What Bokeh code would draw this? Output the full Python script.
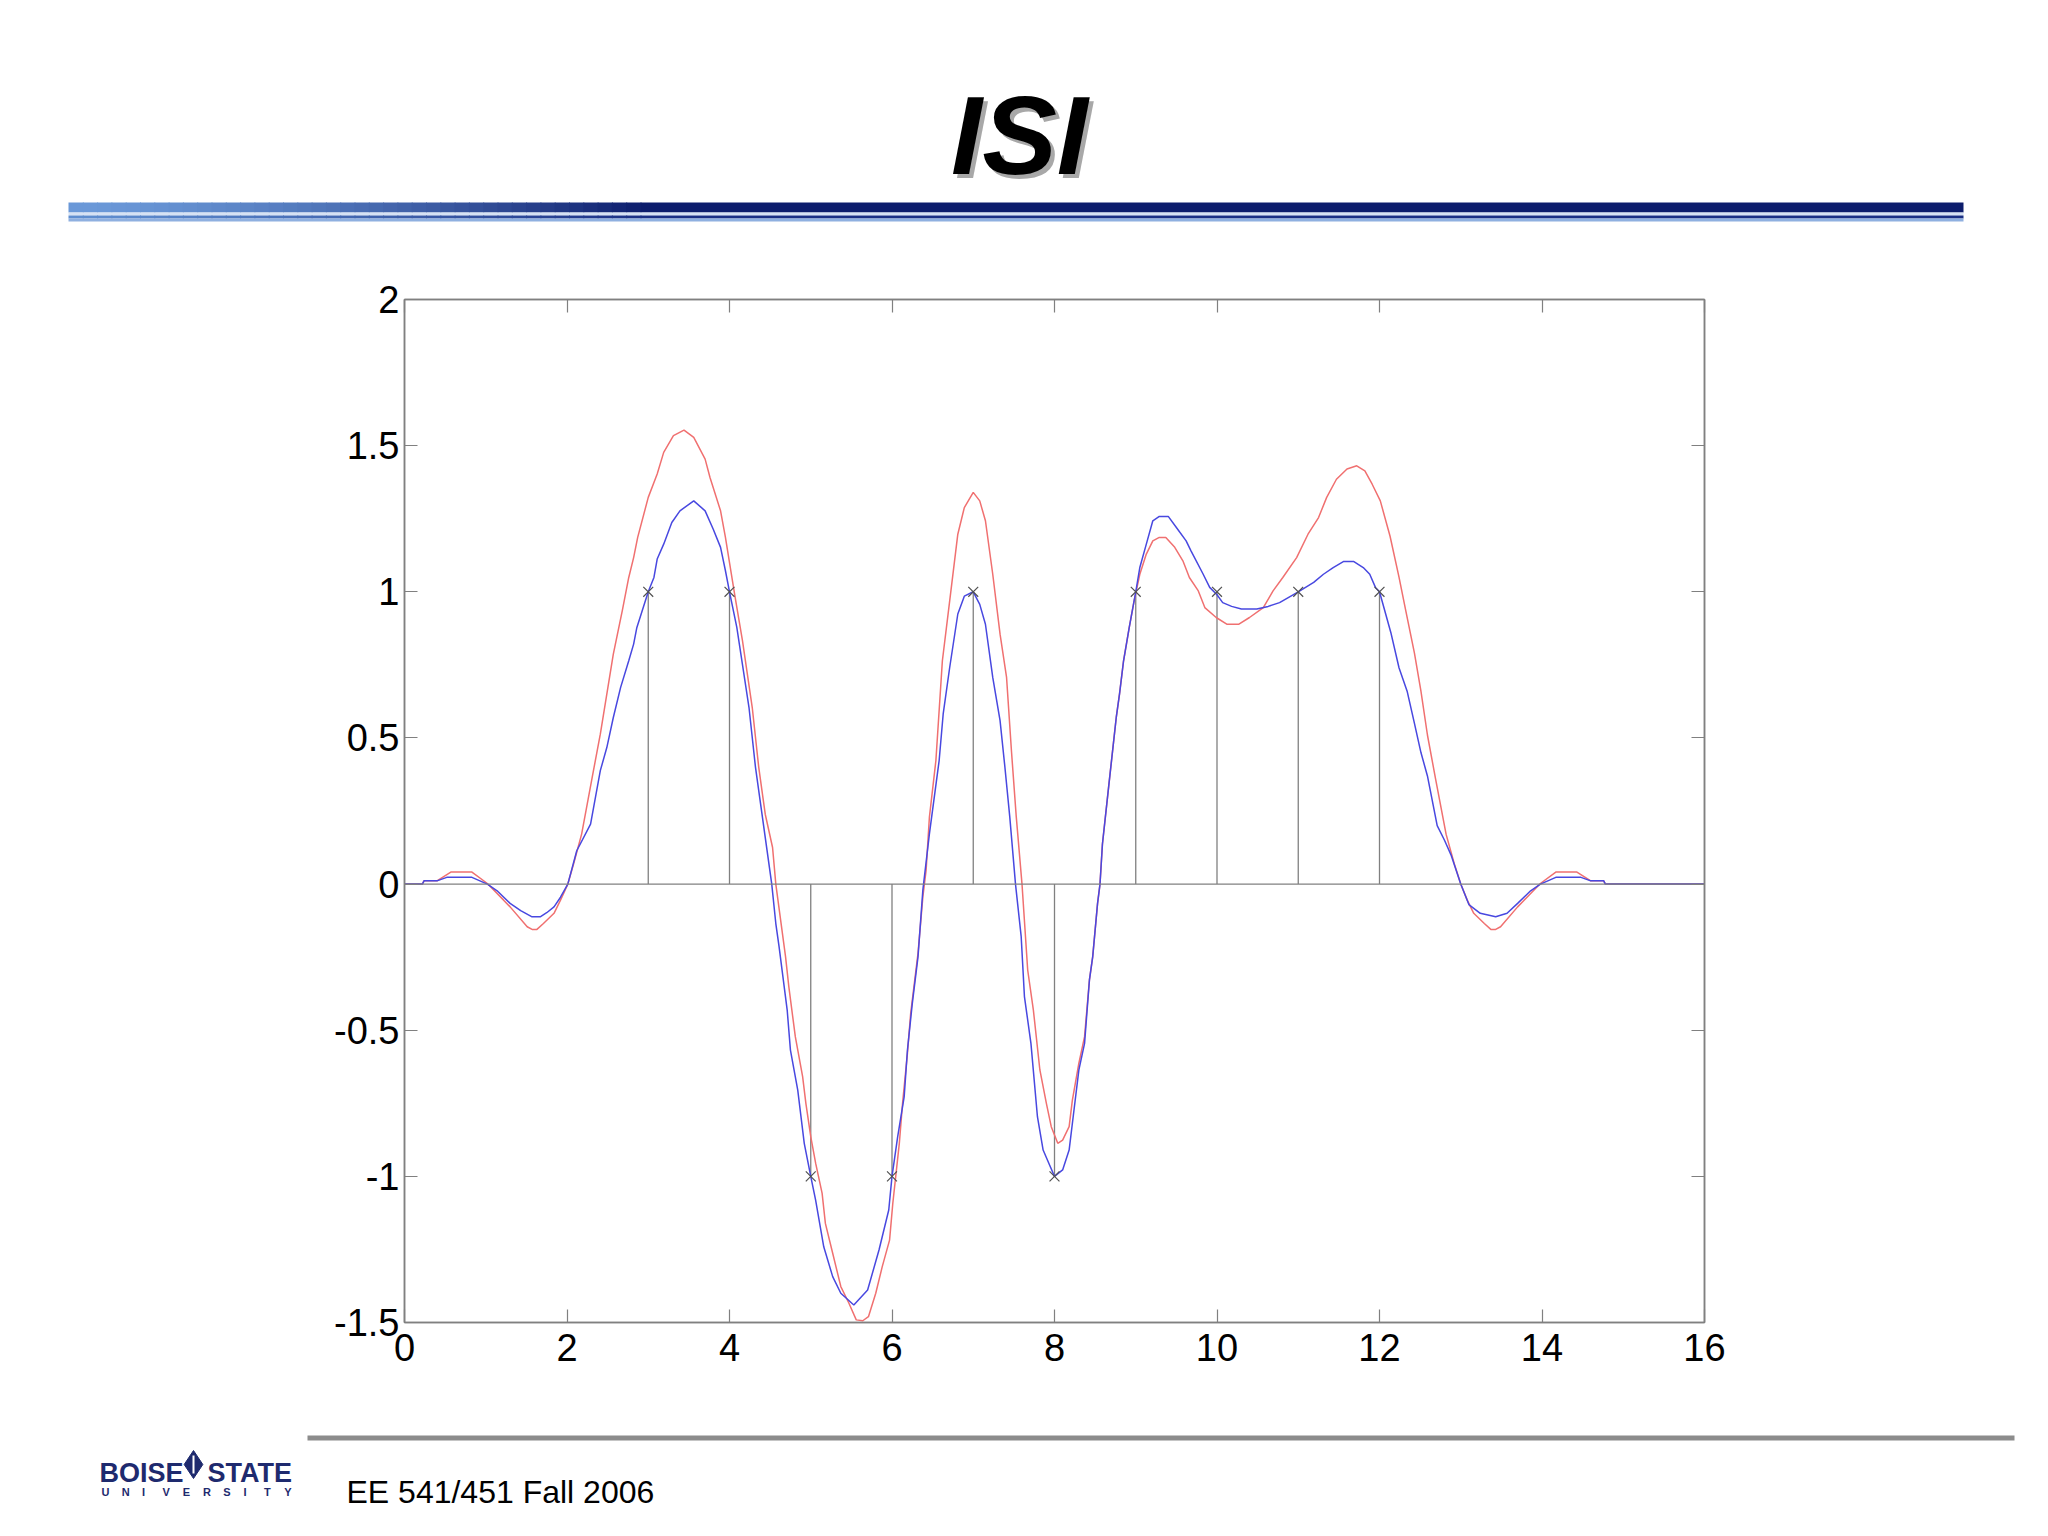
from bokeh.plotting import figure
from bokeh.models import Range1d, LinearAxis, FixedTicker, Span
from bokeh.layouts import column
from bokeh.embed import file_html
from bokeh.resources import INLINE
from bokeh.core.properties import value

# ---------------- data ----------------
title_text = "ISI"
footer_text = "EE 541/451 Fall 2006"
logo_top = ["BOISE", "STATE"]
logo_bottom = list("UNIVERSITY")

x_ticks = [0, 2, 4, 6, 8, 10, 12, 14, 16]
x_tick_labels = ["0", "2", "4", "6", "8", "10", "12", "14", "16"]
y_ticks = [-1.5, -1, -0.5, 0, 0.5, 1, 1.5, 2]
y_tick_labels = ["-1.5", "-1", "-0.5", "0", "0.5", "1", "1.5", "2"]

stem_x = [3, 4, 5, 6, 7, 8, 9, 10, 11, 12]
stem_y = [1, 1, -1, -1, 1, -1, 1, 1, 1, 1]

blue_x = [0.0, 0.22, 0.24, 0.40, 0.52, 0.83, 1.02, 1.14, 1.30, 1.43, 1.57, 1.67, 1.75, 1.84, 1.92,
          2.01, 2.12, 2.29, 2.41, 2.49, 2.57, 2.66, 2.76, 2.82, 2.86, 3.00, 3.07, 3.11, 3.19, 3.29,
          3.39, 3.56, 3.70, 3.80, 3.89, 3.95, 4.00, 4.09, 4.14, 4.24, 4.32, 4.40, 4.52, 4.57, 4.61,
          4.71, 4.75, 4.84, 4.92, 5.00, 5.06, 5.16, 5.27, 5.37, 5.53, 5.70, 5.84, 5.96, 6.00, 6.07,
          6.15, 6.19, 6.25, 6.32, 6.38, 6.46, 6.58, 6.63, 6.71, 6.81, 6.89, 7.00, 7.08, 7.15, 7.24,
          7.33, 7.39, 7.45, 7.52, 7.59, 7.63, 7.71, 7.79, 7.86, 7.93, 8.00, 8.10, 8.18, 8.24, 8.30,
          8.37, 8.43, 8.47, 8.53, 8.56, 8.59, 8.67, 8.76, 8.80, 8.85, 8.92, 9.00, 9.05, 9.13, 9.21,
          9.29, 9.40, 9.50, 9.62, 9.68, 9.83, 9.91, 10.00, 10.07, 10.18, 10.30, 10.49, 10.63, 10.77,
          11.00, 11.19, 11.31, 11.43, 11.56, 11.68, 11.80, 11.88, 11.95, 12.00, 12.14, 12.24, 12.34,
          12.43, 12.51, 12.59, 12.71, 12.80, 12.88, 13.00, 13.10, 13.24, 13.43, 13.57, 13.70, 13.86,
          13.98, 14.17, 14.48, 14.60, 14.76, 14.78, 16.0]
blue_y = [0.0, 0.0, 0.011, 0.011, 0.023, 0.023, 0.0, -0.023, -0.066, -0.091, -0.112, -0.112, -0.098, -0.078, -0.045,
          0.0, 0.114, 0.205, 0.388, 0.467, 0.57, 0.673, 0.764, 0.821, 0.878, 1.0, 1.049, 1.112, 1.163, 1.237,
          1.277, 1.311, 1.277, 1.214, 1.152, 1.072, 1.0, 0.878, 0.787, 0.604, 0.399, 0.239, 0.0, -0.135, -0.214,
          -0.431, -0.568, -0.705, -0.887, -1.0, -1.081, -1.241, -1.343, -1.40, -1.44, -1.389, -1.252, -1.115, -1.0, -0.864,
          -0.727, -0.568, -0.408, -0.249, -0.02, 0.171, 0.422, 0.582, 0.741, 0.924, 0.985, 1.0, 0.957, 0.889, 0.707,
          0.559, 0.399, 0.228, 0.0, -0.18, -0.385, -0.545, -0.796, -0.91, -0.955, -1.0, -0.978, -0.91, -0.773, -0.636,
          -0.545, -0.328, -0.249, -0.066, 0.0, 0.137, 0.342, 0.57, 0.65, 0.764, 0.878, 1.0, 1.083, 1.163, 1.243,
          1.258, 1.258, 1.22, 1.174, 1.14, 1.06, 1.015, 0.99, 0.963, 0.95, 0.941, 0.941, 0.95, 0.963,
          1.0, 1.032, 1.06, 1.083, 1.104, 1.104, 1.083, 1.06, 1.015, 1.0, 0.86, 0.74, 0.66,
          0.55, 0.45, 0.37, 0.20, 0.15, 0.10, 0.0, -0.07, -0.10, -0.112, -0.10, -0.066, -0.023,
          0.0, 0.023, 0.023, 0.011, 0.011, 0.0, 0.0]

red_x = [0.0, 0.22, 0.24, 0.40, 0.57, 0.83, 1.02, 1.22, 1.30, 1.51, 1.57, 1.63, 1.71, 1.84, 1.92,
         2.01, 2.08, 2.18, 2.31, 2.41, 2.49, 2.57, 2.68, 2.76, 2.82, 2.87, 3.00, 3.11, 3.19, 3.31,
         3.44, 3.56, 3.70, 3.76, 3.89, 3.95, 4.01, 4.07, 4.16, 4.28, 4.36, 4.44, 4.53, 4.57, 4.69,
         4.73, 4.81, 4.90, 4.94, 5.00, 5.06, 5.14, 5.18, 5.27, 5.37, 5.47, 5.56, 5.64, 5.71, 5.80,
         5.88, 5.97, 6.01, 6.09, 6.13, 6.19, 6.23, 6.32, 6.38, 6.42, 6.46, 6.54, 6.62, 6.71, 6.81,
         6.89, 7.00, 7.08, 7.15, 7.24, 7.33, 7.41, 7.47, 7.53, 7.60, 7.67, 7.74, 7.82, 7.90, 7.96,
         8.04, 8.10, 8.18, 8.22, 8.30, 8.37, 8.43, 8.47, 8.53, 8.56, 8.59, 8.67, 8.76, 8.80, 8.85,
         8.92, 8.98, 9.05, 9.13, 9.21, 9.29, 9.37, 9.48, 9.58, 9.66, 9.77, 9.85, 9.99, 10.12, 10.27,
         10.40, 10.57, 10.69, 10.81, 10.98, 11.12, 11.25, 11.35, 11.47, 11.60, 11.72, 11.82, 11.91,
         12.01, 12.13, 12.24, 12.32, 12.43, 12.51, 12.59, 12.69, 12.82, 12.92, 13.00, 13.08, 13.16,
         13.29, 13.37, 13.43, 13.49, 13.70, 13.78, 13.98, 14.17, 14.43, 14.60, 14.76, 14.78, 16.0]
red_y = [0.0, 0.0, 0.011, 0.011, 0.041, 0.041, 0.002, -0.055, -0.078, -0.146, -0.155, -0.155, -0.135, -0.10, -0.055,
         0.0, 0.068, 0.171, 0.365, 0.513, 0.65, 0.787, 0.935, 1.049, 1.117, 1.186, 1.323, 1.403, 1.477, 1.534,
         1.553, 1.528, 1.454, 1.391, 1.277, 1.186, 1.083, 0.98, 0.832, 0.604, 0.399, 0.239, 0.125, 0.0, -0.249,
         -0.351, -0.522, -0.659, -0.75, -0.864, -0.955, -1.058, -1.161, -1.263, -1.377, -1.434, -1.491, -1.494, -1.48, -1.40,
         -1.309, -1.218, -1.092, -0.887, -0.75, -0.579, -0.442, -0.237, -0.043, 0.048, 0.228, 0.422, 0.764, 0.969, 1.197,
         1.288, 1.34, 1.311, 1.243, 1.06, 0.855, 0.707, 0.456, 0.228, 0.0, -0.294, -0.431, -0.636, -0.75, -0.83,
         -0.887, -0.876, -0.83, -0.739, -0.613, -0.522, -0.328, -0.249, -0.066, 0.0, 0.137, 0.342, 0.57, 0.65, 0.764,
         0.878, 0.969, 1.06, 1.129, 1.174, 1.186, 1.186, 1.152, 1.106, 1.049, 1.003, 0.946, 0.912, 0.889, 0.889,
         0.912, 0.946, 1.003, 1.049, 1.117, 1.197, 1.254, 1.323, 1.385, 1.42, 1.431, 1.414, 1.368,
         1.311, 1.19, 1.05, 0.94, 0.79, 0.66, 0.51, 0.36, 0.17, 0.07, 0.0, -0.055, -0.10,
         -0.135, -0.155, -0.155, -0.146, -0.078, -0.055, 0.002, 0.041, 0.041, 0.011, 0.011, 0.0, 0.0]

# ---------------- styles ----------------
FONT = "Liberation Sans"
GRAY = "#808080"
W = 2040


def bare(fig):
    fig.axis.visible = False
    fig.grid.visible = False
    fig.outline_line_color = None
    fig.background_fill_color = "white"
    fig.border_fill_color = "white"


# ---------------- top figure (title + rule), page pixel coordinates ----------------
top = figure(width=W, height=270, x_range=Range1d(0, W), y_range=Range1d(270, 0),
             output_backend="svg", toolbar_location=None, min_border=0, frame_align=False)
bare(top)

top.text(x=[1023], y=[139], text=[title_text], text_font=value(FONT), text_font_style="bold italic",
         text_font_size="112px", text_color="#a8a8a8", text_align="center", text_baseline="middle")
top.text(x=[1019], y=[135], text=[title_text], text_font=value(FONT), text_font_style="bold italic",
         text_font_size="112px", text_color="#000000", text_align="center", text_baseline="middle")


def lerp(c1, c2, t):
    a = [int(c1[i:i + 2], 16) for i in (1, 3, 5)]
    b = [int(c2[i:i + 2], 16) for i in (1, 3, 5)]
    return "#%02x%02x%02x" % tuple(int(round(a[k] + (b[k] - a[k]) * t)) for k in range(3))


x0r, x1r, xm = 68, 1963, 640
n = 40
lefts, rights, cols, cols2 = [], [], [], []
for i in range(n):
    lefts.append(x0r + (xm - x0r) * i / n)
    rights.append(x0r + (xm - x0r) * (i + 1) / n + 1)
    cols.append(lerp("#6a98d8", "#0c1c6c", (i / n) ** 1.5))
    cols2.append(lerp("#5f8ed0", "#1a2f85", (i / n) ** 1.2))
lefts.append(xm); rights.append(x1r); cols.append("#0c1c6c"); cols2.append("#1a2f85")
m = len(lefts)
top.quad(left=lefts, right=rights, top=[202] * m, bottom=[212] * m, fill_color=cols, line_color=None)
top.quad(left=[x0r], right=[x1r], top=[212], bottom=[215], fill_color="#d6e2f4", line_color=None)
top.quad(left=lefts, right=rights, top=[215] * m, bottom=[218] * m, fill_color=cols2, line_color=None)
top.quad(left=[x0r], right=[x1r], top=[218], bottom=[221], fill_color="#8fb0e0", line_color=None)

# ---------------- main chart ----------------
p = figure(width=W, height=1150, x_range=Range1d(0, 16), y_range=Range1d(-1.5, 2),
           output_backend="svg", toolbar_location=None, frame_align=False,
           min_border_left=404, min_border_right=336, min_border_top=29, min_border_bottom=98)
p.grid.visible = False
p.background_fill_color = "white"
p.border_fill_color = "white"
p.outline_line_color = GRAY
p.outline_line_width = 1.5

bottom_ax = p.below[0]
left_ax = p.left[0]
bottom_ax.ticker = FixedTicker(ticks=x_ticks)
left_ax.ticker = FixedTicker(ticks=y_ticks)
bottom_ax.major_label_overrides = dict(zip(x_ticks, x_tick_labels))
left_ax.major_label_overrides = dict(zip(y_ticks, y_tick_labels))

top_ax = LinearAxis(ticker=FixedTicker(ticks=x_ticks),
                    major_label_overrides={t: "" for t in x_ticks})
right_ax = LinearAxis(ticker=FixedTicker(ticks=y_ticks),
                      major_label_overrides={t: "" for t in y_ticks})
p.add_layout(top_ax, "above")
p.add_layout(right_ax, "right")

for ax in [bottom_ax, left_ax, top_ax, right_ax]:
    ax.major_tick_in = 13
    ax.major_tick_out = 0
    ax.minor_tick_in = 0
    ax.minor_tick_out = 0
    ax.axis_line_color = GRAY
    ax.axis_line_width = 1.5
    ax.major_tick_line_color = GRAY
    ax.major_tick_line_width = 1.2
    ax.major_label_text_font = FONT
    ax.major_label_text_font_size = "38px"
    ax.major_label_text_color = "#000000"
bottom_ax.major_label_standoff = 11
left_ax.major_label_standoff = 5
top_ax.major_label_standoff = 0
right_ax.major_label_standoff = 0

p.add_layout(Span(location=0, dimension="width", line_color=GRAY, line_width=1.3))
p.segment(x0=stem_x, y0=[0] * len(stem_x), x1=stem_x, y1=stem_y, line_color=GRAY, line_width=1.3)
p.line(red_x, red_y, line_color="#f07070", line_width=1.5)
p.line(blue_x, blue_y, line_color="#4848e0", line_width=1.5)
p.scatter(stem_x, stem_y, marker="x", size=14, line_color="#505050", line_width=1.2)

# ---------------- footer (page y - 1420) ----------------
bot = figure(width=W, height=108, x_range=Range1d(0, W), y_range=Range1d(108, 0),
             output_backend="svg", toolbar_location=None, min_border=0, frame_align=False)
bare(bot)

bot.quad(left=[307], right=[2014], top=[15], bottom=[20], fill_color="#8c8c8c", line_color=None)
bot.text(x=[346], y=[71], text=[footer_text], text_font=value(FONT), text_font_size="32px",
         text_color="#000000", text_baseline="middle")

NAVY = "#1e2a6e"
bot.text(x=[99, 207], y=[52, 52], text=logo_top, text_font=value(FONT),
         text_font_style="bold", text_font_size="27px", text_color=NAVY, text_baseline="middle")
bot.scatter(x=[193], y=[44], marker="diamond", size=28, fill_color=NAVY, line_color=NAVY)
bot.segment(x0=[193], y0=[35], x1=[193], y1=[53], line_color="white", line_width=2)
ux = [101 + i * 20.3 for i in range(len(logo_bottom))]
bot.text(x=ux, y=[71] * len(ux), text=logo_bottom, text_font=value(FONT), text_font_style="bold",
         text_font_size="11px", text_color=NAVY, text_baseline="middle", text_align="left")

layout = column(top, p, bot, spacing=0)
open("out.html", "w").write(file_html(layout, INLINE))
